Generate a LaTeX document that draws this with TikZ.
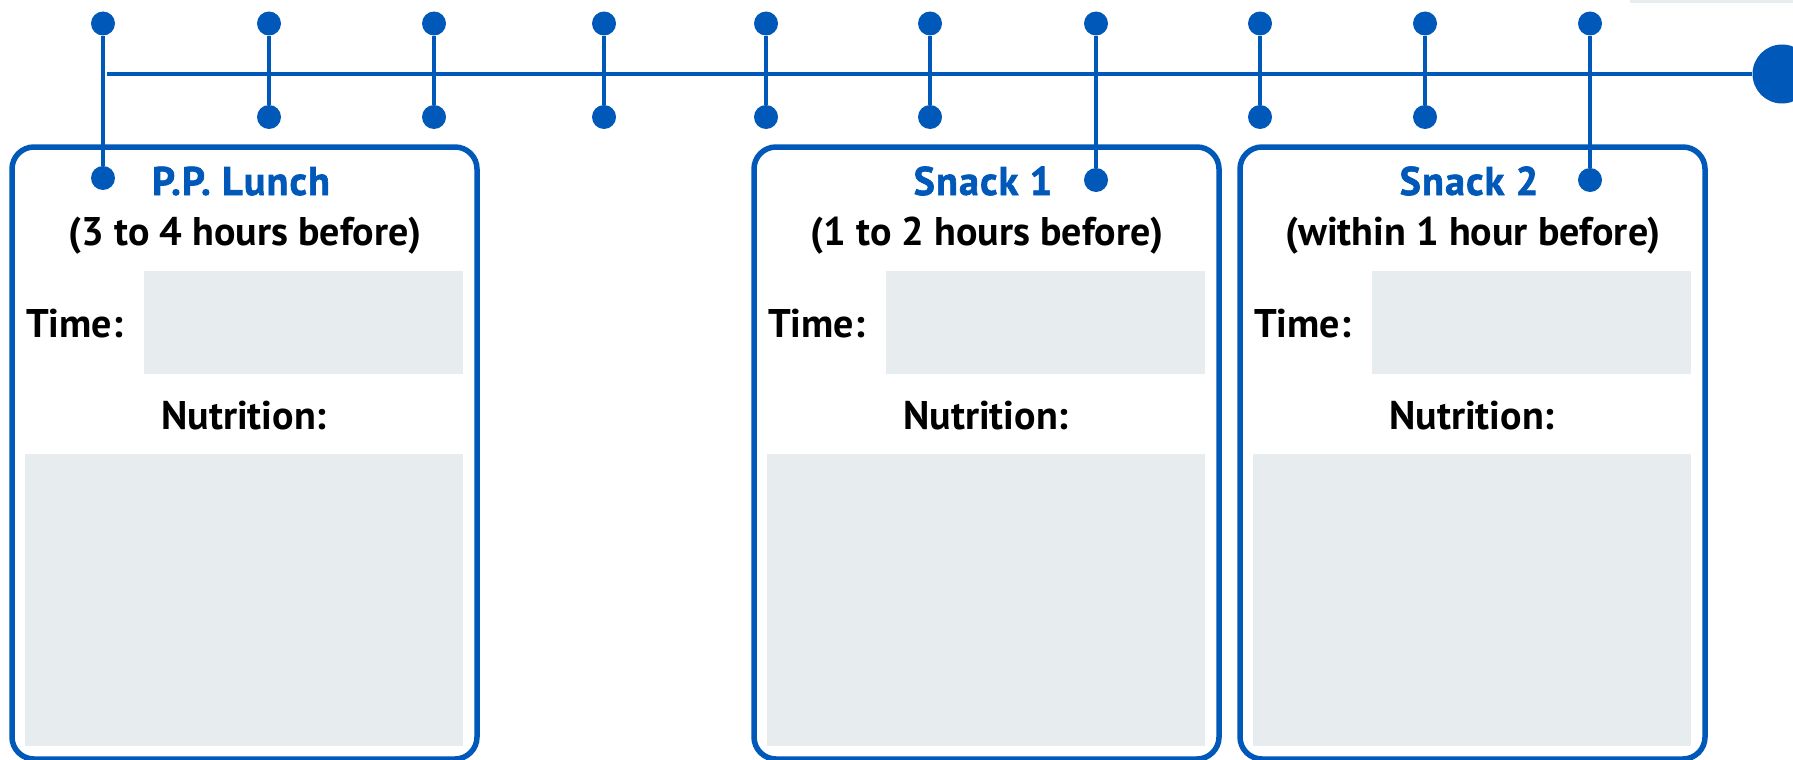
\documentclass[tikz,border=0pt]{standalone}
\usepackage{fontspec}
\setmainfont{PT Sans}
\newfontfamily\mealfont[FakeBold=1.6,LetterSpace=3]{PT Sans Bold}
\usepackage{tikz}
\usetikzlibrary{positioning}
\definecolor{planblue}{HTML}{0058B8}
\definecolor{planfield}{HTML}{E7ECEF}
\tikzset{
	meal plan/.style={x=1pt,y=-1pt},
	tl/.style={draw=planblue,line width=4.5pt},
	dot/.style={circle,fill=planblue,inner sep=0pt,minimum size=24pt},
	big dot/.style={circle,fill=planblue,inner sep=0pt,minimum size=59pt},
	mealbox/.style={draw=planblue,line width=5.5pt,rounded corners=22pt,outer sep=0pt,
		anchor=north west,inner sep=0pt,minimum width=465pt,minimum height=612pt},
	field/.style={fill=planfield,anchor=north west,inner sep=0pt,outer sep=0pt},
	mealname/.style={anchor=base,text=planblue,font=\fontsize{40}{48}\selectfont\mealfont},
	label/.style={anchor=base,font=\fontsize{40}{48}\selectfont\bfseries}
}

\begin{document}
\begin{tikzpicture}[meal plan]
	\useasboundingbox (0,0) rectangle (1793,760);
	\clip (0,0) rectangle (1793,760);
	\fill[planfield] (1630,0) rectangle (1793,3.5);
	\foreach \bx/\name/\meal/\when in {9/lunch/P.P. Lunch/3 to 4 hours before,
			751/snackA/Snack 1/1 to 2 hours before,
			1237/snackB/Snack 2/within 1 hour before} {
		\node[mealbox] (\name) at (\bx+3,147) {};
		\node[field,minimum width=319pt,minimum height=103pt] (\name time) at (\bx+135,271) {};
		\node[field,minimum width=438pt,minimum height=292pt] (\name food) at (\bx+16,454) {};
		\node[mealname] (\name title) at (\bx+232,195) {\meal};
		\node[label] (\name when) at (\bx+236,245) {(\when)};
		\node[label,anchor=base west,inner sep=0pt] (\name time label) at (\bx+17,337) {Time:};
		\node[label] (\name food label) at (\bx+235,429) {Nutrition:};
	}
	\coordinate (tl start) at (107,74);
	\node[big dot] (tl end) at (1782,74) {};
	\draw[tl] (tl start) -- (tl end);
	\foreach \i/\x/\y in {0/103/178,1/269/117,2/434/117,3/604/117,4/766/117,
			5/930/117,6/1096/180,7/1260/117,8/1425/117,9/1590/180} {
		\node[dot] (top\i) at (\x,23.5) {};
		\node[dot] (bot\i) at (\x,\y) {};
		\draw[tl] (top\i) -- (bot\i);
	}
\end{tikzpicture}
\end{document}
